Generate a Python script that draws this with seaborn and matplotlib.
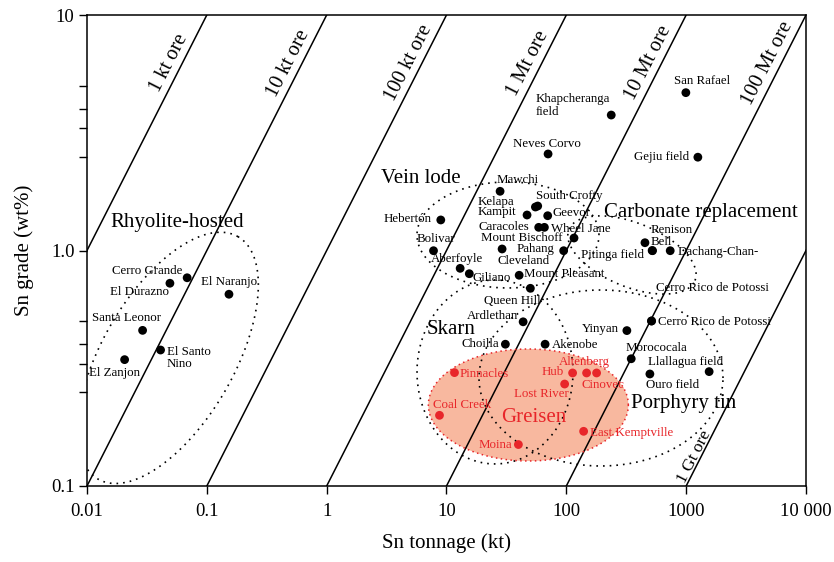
import numpy as np
import pandas as pd
import matplotlib
matplotlib.use("Agg")
import matplotlib.pyplot as plt
import seaborn as sns
from matplotlib.ticker import FixedLocator, NullLocator, FixedFormatter, NullFormatter

# ---------------- data ----------------
rhy_names = ["Cerro Grande", "El Durazno", "El Naranjo", "Santa Leonor", "El Santo\nNino", "El Zanjon"]
rhy_sn = [0.0685, 0.0492, 0.153, 0.0291, 0.0411, 0.0206]
rhy_grade = [0.766, 0.726, 0.652, 0.458, 0.378, 0.344]

vein_names = ["Hebertón", "Bolivar", "Mawchi", "Kelapa", "South Crofty", "Kampit", "Geevor",
              "Caracoles", "Wheel Jane", "Mount Bischoff", "Pahang", "Cleveland", "Aberfoyle",
              "Giliano", "Mount Pleasant", "Queen Hill", "Ardlethan", "Choilla", "Akenobe", "Neves Corvo"]
vein_sn = [8.96, 7.79, 28.0, 55.2, 57.7, 47.0, 69.9, 58.8, 65.6, 115.9, 95.0, 29.1, 13.0,
           15.5, 40.4, 50.1, 43.6, 31.0, 66.5, 70.4]
vein_grade = [1.348, 0.998, 1.784, 1.530, 1.545, 1.415, 1.405, 1.254, 1.254, 1.130, 0.998, 1.015,
              0.840, 0.797, 0.785, 0.691, 0.498, 0.400, 0.400, 2.57]

carb_names = ["Khapcheranga\nfield", "San Rafael", "Gejiu field", "Renison", "Bell", "Pitinga field", "Dachang-Chan-"]
carb_sn = [237, 994, 1252, 453, 524, 520, 736]
carb_grade = [3.76, 4.68, 2.49, 1.079, 0.998, 1.0, 0.998]

por_names = ["Cerro Rico de Potossi", "Cerro Rico de Potossi", "Yinyan", "Morococala", "Llallagua field", "Ouro field"]
por_sn = [514, 514, 320, 348, 1555, 498]
por_grade = [0.502, 0.502, 0.457, 0.347, 0.306, 0.299]

gre_names = ["Pinnacles", "Coal Creek", "Moina", "Hub", "Altenberg", "Cinovec", "Lost River", "East Kemptville"]
gre_sn = [11.66, 8.74, 39.8, 112.8, 147.6, 178.9, 96.8, 139.4]
gre_grade = [0.303, 0.1996, 0.150, 0.302, 0.302, 0.302, 0.271, 0.1707]

ore_kt = [1, 10, 100, 1000, 10000, 100000, 1000000]
ore_labels = ["1 kt ore", "10 kt ore", "100 kt ore", "1 Mt ore", "10 Mt ore", "100 Mt ore", "1 Gt ore"]

x_ticks = [0.01, 0.1, 1, 10, 100, 1000, 10000]
x_tick_labels = ["0.01", "0.1", "1", "10", "100", "1000", "10 000"]
y_ticks = [0.1, 1.0, 10]
y_tick_labels = ["0.1", "1.0", "10"]
y_minor = [0.25, 0.33, 0.4, 0.5, 2.5, 3.3, 4, 5]

group_names = ["Rhyolite-hosted", "Vein lode", "Carbonate replacement", "Skarn", "Greisen", "Porphyry tin"]

# ---------------- styling / label placement (pixels: dx right, dy up) ----------------
rhy_lab = [(-5, 7, "right"), (-1, -8.4, "right"), (0, 12.6, "center"), (-16, 12, "center"),
           (6, -8, "left"), (-10, -13, "center")]
vein_lab = [(-9.6, 1, "right"), (2, 11.4, "center"), (-4, 11.3, "left"), (-21, 5.3, "right"),
            (-1.6, 10.3, "left"), (-11, 2.7, "right"), (4.4, 2.4, "left"), (-9.3, 0.6, "right"),
            (6.7, -2, "left"), (-11.4, 0, "right"), (-9.3, 1.5, "right"), (-4.4, -12.5, "left"),
            (-3.2, 9, "center"), (3.6, -4.6, "left"), (5.3, 1.3, "left"), (-17.7, -12.4, "center"),
            (-5.4, 6, "right"), (-6, 0.3, "right"), (6.6, -0.7, "left"), (-1.2, 10, "center")]
carb_lab = [(-75.3, 9.5, "left"), (15.8, 12, "center"), (-8.7, -0.3, "right"), (6, 12.7, "left"),
            (-1.6, 9, "left"), (-8.3, -4.3, "right"), (7.3, -1, "left")]
por_lab = [(4.4, 33.3, "left"), (6, -0.7, "left"), (-7.7, 1.7, "right"), (-5.3, 10.4, "left"),
           (-23.3, 9.4, "center"), (-3.4, -11, "left")]
gre_lab = [(5, -1.3, "left"), (-6, 10.3, "left"), (-6.3, 0, "right"), (-8.3, 1.3, "right"),
           (-2.3, 10.7, "center"), (6.5, -12, "center"), (-23.6, -10, "center"), (6.4, -2, "left")]

group_pos = [(0.0562, 1.321), (6.07, 2.03), (1334, 1.443), (11.0, 0.46), (53.1, 0.196), (944, 0.225)]

# field outlines: centre (Sn kt, grade), semi-axes in display px, angle deg
outlines = {
    "Rhyolite-hosted": (0.0474, 0.350, 140, 66, 60),
    "Vein lode": (32.6, 1.164, 91, 53, 0),
    "Carbonate replacement": (353, 0.957, 68, 32, -22),
    "Skarn": (25.4, 0.305, 78, 92, 0),
    "Porphyry tin": (194.7, 0.2875, 122, 88, 0),
}
greisen_outline = (48.2, 0.2208, 100, 56, 0)

RED = "#e8262a"
FILL = "#f8b89f"

sns.set_theme(style="ticks")
plt.rcParams["font.family"] = ["Liberation Serif", "DejaVu Serif"]
plt.rcParams["text.color"] = "black"
plt.rcParams["axes.labelcolor"] = "black"
plt.rcParams["xtick.color"] = "black"
plt.rcParams["ytick.color"] = "black"
plt.rcParams["axes.edgecolor"] = "black"

fig = plt.figure(figsize=(8.34, 5.62), dpi=100)
ax = fig.add_axes([87 / 834, 1 - 486 / 562, 719 / 834, 471 / 562])
ax.set_xscale("log")
ax.set_yscale("log")
ax.set_xlim(x_ticks[0], x_ticks[-1])
ax.set_ylim(y_ticks[0], y_ticks[-1])

# data frame
frames = []
for names, sn, gr, kind in [(rhy_names, rhy_sn, rhy_grade, "black"), (vein_names, vein_sn, vein_grade, "black"),
                            (carb_names, carb_sn, carb_grade, "black"), (por_names, por_sn, por_grade, "black"),
                            (gre_names, gre_sn, gre_grade, "red")]:
    frames.append(pd.DataFrame({"name": names, "sn": sn, "grade": gr, "kind": kind}))
df = pd.concat(frames, ignore_index=True)
labs = rhy_lab + vein_lab + carb_lab + por_lab + gre_lab


def ellipse_xy(sn, grade, a, b, ang):
    bb = ax.get_window_extent()
    xl, yl = ax.get_xlim(), ax.get_ylim()
    px_x = bb.width / np.log10(xl[1] / xl[0])
    px_y = bb.height / np.log10(yl[1] / yl[0])
    t = np.linspace(0, 2 * np.pi, 400)
    th = np.radians(ang)
    dx = a * np.cos(t) * np.cos(th) - b * np.sin(t) * np.sin(th)
    dy = a * np.cos(t) * np.sin(th) + b * np.sin(t) * np.cos(th)
    return sn * 10 ** (dx / px_x), grade * 10 ** (dy / px_y)


# greisen filled field
gx, gy = ellipse_xy(*greisen_outline)
ax.fill(gx, gy, facecolor=FILL, edgecolor="none", zorder=0.5)
ax.plot(gx, gy, color=RED, lw=1.1, ls=(0, (1, 2.2)), zorder=2)

# ore tonnage lines
xs = np.array([x_ticks[0] / 10, x_ticks[-1] * 10])
for ore in ore_kt:
    ax.plot(xs, 100 * xs / ore, color="black", lw=1.1, zorder=1)

# line labels
p1 = ax.transData.transform((1, 1))
p2 = ax.transData.transform((10, 10))
ang = np.degrees(np.arctan2(p2[1] - p1[1], p2[0] - p1[0]))
for ore, lab in zip(ore_kt, ore_labels):
    if ore < 1e6:
        g, fs, off = 6.25, 14.8, -13.5
    else:
        g, fs, off = 0.1327, 12.5, -7
    ax.annotate(lab, (ore * g / 100, g), xytext=(off * 0.72, 0), textcoords="offset points",
                rotation=ang, rotation_mode="anchor", ha="center", va="center", fontsize=fs)

# dotted field outlines
for key, spec in outlines.items():
    ox, oy = ellipse_xy(*spec)
    ax.plot(ox, oy, color="black", lw=1.2, ls=(0, (1, 3)), zorder=2)

# points
sns.scatterplot(data=df, x="sn", y="grade", hue="kind", palette={"black": "black", "red": RED},
                s=40, linewidth=0, legend=False, ax=ax, zorder=3)

for (i, row), (dx, dy, ha) in zip(df.iterrows(), labs):
    ax.annotate(row["name"], (row["sn"], row["grade"]), xytext=(dx * 0.72, dy * 0.72),
                textcoords="offset points", ha=ha, va="center", fontsize=9.3, linespacing=1.05,
                color=RED if row["kind"] == "red" else "black", zorder=4)

for name, (gx_, gy_) in zip(group_names, group_pos):
    ax.text(gx_, gy_, name, fontsize=15, ha="center", va="center",
            color=RED if name == "Greisen" else "black", zorder=4)

# axes
ax.xaxis.set_major_locator(FixedLocator(x_ticks))
ax.xaxis.set_major_formatter(FixedFormatter(x_tick_labels))
ax.xaxis.set_minor_locator(NullLocator())
ax.yaxis.set_major_locator(FixedLocator(y_ticks))
ax.yaxis.set_major_formatter(FixedFormatter(y_tick_labels))
ax.yaxis.set_minor_locator(FixedLocator(y_minor))
ax.yaxis.set_minor_formatter(NullFormatter())
ax.tick_params(which="both", direction="out", length=6, width=1.0, labelsize=13.5)
ax.tick_params(axis="x", pad=6)
ax.tick_params(axis="y", pad=3)
for s in ax.spines.values():
    s.set_linewidth(1.1)
    s.set_color("black")
ax.set_xlabel("Sn tonnage (kt)", fontsize=15, labelpad=10)
ax.set_ylabel("Sn grade (wt%)", fontsize=15, labelpad=12)

fig.savefig("out.png", dpi=100)
